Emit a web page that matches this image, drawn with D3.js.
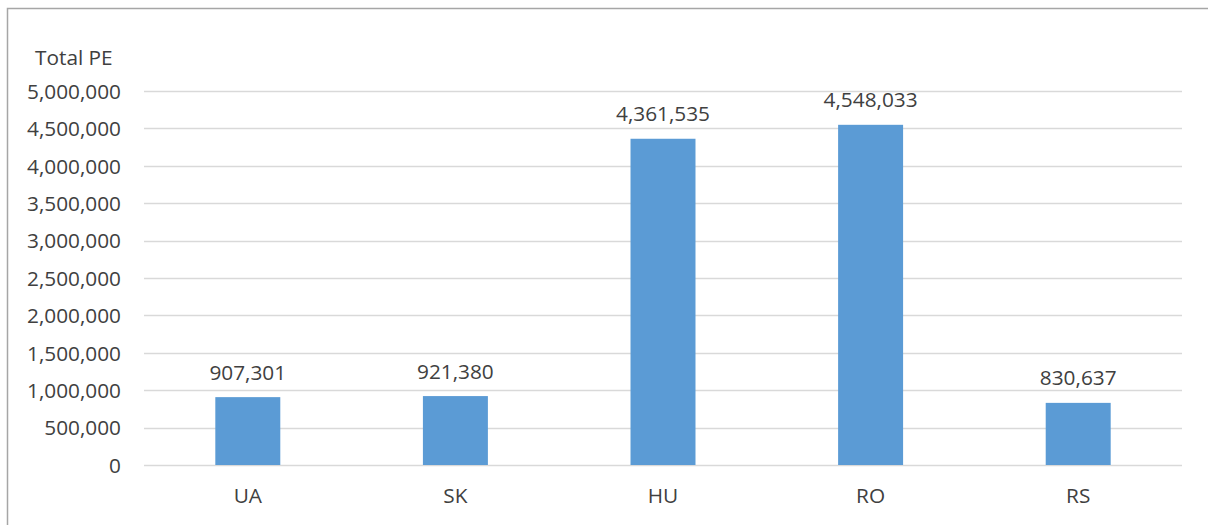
<!DOCTYPE html>
<html><head><meta charset="utf-8">
<script src="https://cdn.jsdelivr.net/npm/d3@7"></script>
<style>
html,body{margin:0;padding:0;background:#fff;}
svg{display:block;}
text{font-family:"Open Sans",sans-serif;fill:#404040;}
</style></head>
<body>
<svg id="chart" width="1208" height="525"></svg>
<script>
const categories = ["UA","SK","HU","RO","RS"];
const values = [907301, 921380, 4361535, 4548033, 830637];
const yTicks = [0,500000,1000000,1500000,2000000,2500000,3000000,3500000,4000000,4500000,5000000];
const yTitle = "Total PE";

const svg = d3.select("#chart");
const W = 1208, H = 525;
const plot = {left:144, right:1182, top:91, bottom:465};
const FS = 20.8;

// outer border
svg.append("rect").attr("x",7.5).attr("y",8.5).attr("width",W+10).attr("height",H+10)
  .attr("fill","none").attr("stroke","#a6a6a6").attr("stroke-width",1.5);

const x = d3.scaleBand().domain(categories).range([plot.left, plot.right]).padding(0);
const y = d3.scaleLinear().domain([0,5000000]).range([plot.bottom, plot.top]);
const fmt = d3.format(",");

// gridlines
svg.append("g").selectAll("line").data(yTicks).join("line")
  .attr("x1",plot.left).attr("x2",plot.right)
  .attr("y1",d=>Math.round(y(d))+0.5).attr("y2",d=>Math.round(y(d))+0.5)
  .attr("stroke","#d9d9d9").attr("stroke-width",1.3);

// y axis labels
const yAxis = d3.axisLeft(y).tickValues(yTicks).tickFormat(fmt).tickSize(0).tickPadding(0);
const gy = svg.append("g").attr("transform",`translate(121,0)`).call(yAxis);
gy.select(".domain").remove();
gy.selectAll("text").attr("font-size",FS).attr("fill","#404040").attr("font-family","'Open Sans',sans-serif").attr("dy","0.35em");

// y title
svg.append("text").attr("x",35).attr("y",65).attr("font-size",FS).text(yTitle);

// bars
const barW = x.bandwidth()*0.313;
svg.append("g").selectAll("rect").data(values).join("rect")
  .attr("x",(d,i)=>x(categories[i])+x.bandwidth()/2-barW/2)
  .attr("y",d=>y(d)).attr("width",barW).attr("height",d=>plot.bottom-y(d))
  .attr("fill","#5b9bd5");

// value labels
svg.append("g").selectAll("text").data(values).join("text")
  .attr("x",(d,i)=>x(categories[i])+x.bandwidth()/2)
  .attr("y",d=>y(d)-17.5).attr("text-anchor","middle").attr("font-size",FS)
  .text(d=>fmt(d));

// x axis labels
const xAxis = d3.axisBottom(x).tickSize(0).tickPadding(0);
const gx = svg.append("g").attr("transform",`translate(0,${plot.bottom})`).call(xAxis);
gx.select(".domain").remove();
gx.selectAll("text").attr("font-size",FS).attr("fill","#404040").attr("font-family","'Open Sans',sans-serif").attr("dy",0).attr("y",38);
</script>
</body></html>
